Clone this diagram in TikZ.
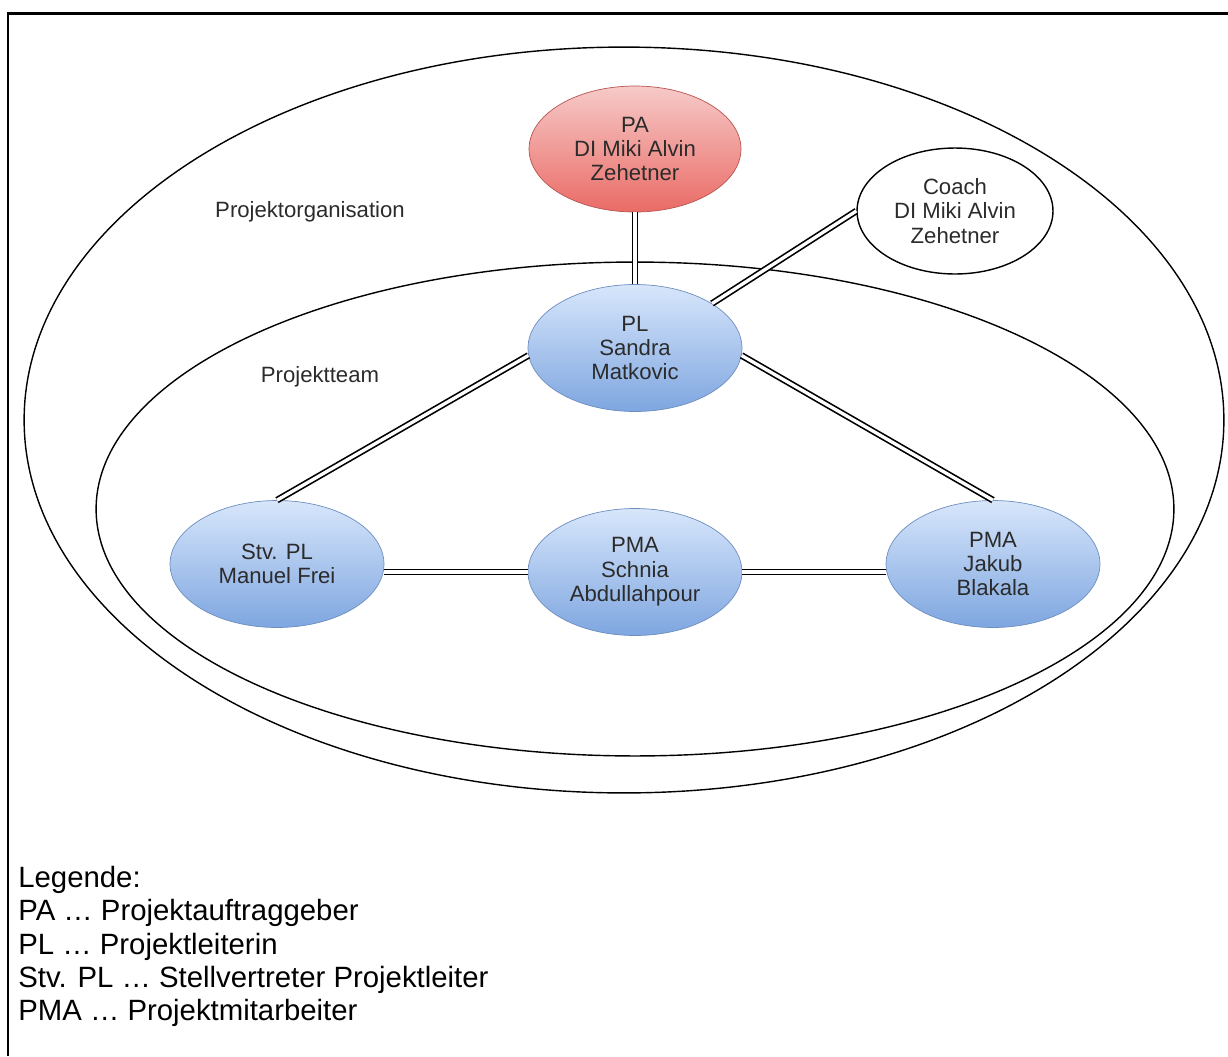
\documentclass[tikz,border=0pt]{standalone}
\usepackage{fontspec}
\setmainfont{Liberation Sans}
\usetikzlibrary{shapes.geometric}
\definecolor{ink}{HTML}{2B2B2B}
\definecolor{bluetop}{HTML}{D8E6FB}
\definecolor{bluebot}{HTML}{7EA6E0}
\definecolor{blueline}{HTML}{6C8EBF}
\definecolor{redtop}{HTML}{F6CAC8}
\definecolor{redbot}{HTML}{EA6B66}
\definecolor{redline}{HTML}{B85450}

\begin{document}
\begin{tikzpicture}[x=0.02cm,y=-0.02cm,
    zone/.style={ellipse,draw,line width=0.8pt,inner sep=0pt},
    txt/.style={text=ink,font=\fontsize{12.6}{13.9}\selectfont},
    person/.style={ellipse,draw=blueline,top color=bluetop,bottom color=bluebot,minimum width=4.28cm,minimum height=2.54cm,inner sep=0pt,align=center,txt},
    link/.style={double,line width=0.95pt,double distance=1.9pt}]
      \useasboundingbox (0,0) rectangle (1228,1056);
      \draw[line width=1.7pt] (8,1056) -- (8,13) -- (1228,13);
      % containers
      \node[zone,minimum width=24cm,minimum height=14.92cm] (org) at (624,420) {};
      \node[zone,minimum width=21.56cm,minimum height=9.88cm] (team) at (635,509) {};
      \node[txt] (orglabel) at (310,212) {Projektorganisation};
      \node[txt] (teamlabel) at (320,377) {Projektteam};
      % people
      \node[ellipse,draw=redline,top color=redtop,bottom color=redbot,minimum width=4.24cm,minimum height=2.52cm,inner sep=0pt,align=center,txt] (pa) at (635,149) {PA\\DI Miki Alvin\\Zehetner};
      \node[ellipse,draw,fill=white,line width=0.8pt,minimum width=3.92cm,minimum height=2.52cm,inner sep=0pt,align=center,txt] (coach) at (955,211) {Coach\\DI Miki Alvin\\Zehetner};
      \node[person] (pl) at (635,348) {PL\\Sandra\\Matkovic};
      \node[person] (stv) at (277,564) {Stv. PL\\Manuel Frei};
      \node[person] (pma) at (635,572) {PMA\\Schnia\\Abdullahpour};
      \node[person] (jb) at (993,564) {PMA\\Jakub\\Blakala};
      \draw[link] (pa.south) -- (pl.north);
      \draw[link] (coach.west) -- (pl.30);
      \draw[link] (pl.184) -- (stv.north);
      \draw[link] (pl.356) -- (jb.north);
      \draw[link] (stv.east |- pma.west) -- (pma.west);
      \draw[link] (pma.east) -- (jb.west |- pma.east);
      % legend
      \node[anchor=north west,inner sep=0pt,align=left,font=\fontsize{16.7}{18.9}\selectfont] (legend) at (18,866) {Legende:\\PA … Projektauftraggeber\\PL … Projektleiterin\\Stv. PL … Stellvertreter Projektleiter\\PMA … Projektmitarbeiter};
    \end{tikzpicture}
\end{document}
